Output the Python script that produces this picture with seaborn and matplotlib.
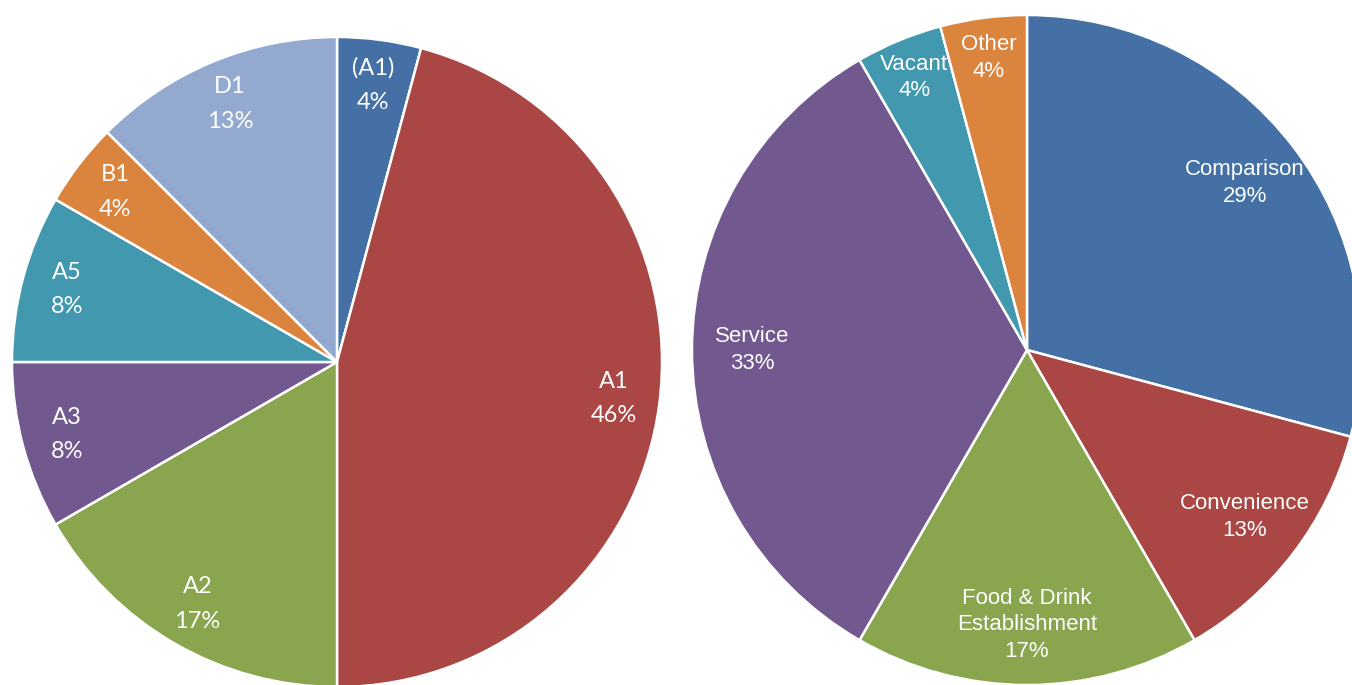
import matplotlib
matplotlib.use("Agg")
import matplotlib.pyplot as plt
import seaborn as sns

sns.set_style("white")

# left pie: use classes (unit counts)
use_labels = ["(A1)", "A1", "A2", "A3", "A5", "B1", "D1"]
use_values = [1, 11, 4, 2, 2, 1, 3]
use_colors = ["#4470A5", "#AA4643", "#89A54E", "#71588F", "#4198AF", "#DB843D", "#93A9CF"]

# right pie: retail categories (unit counts)
cat_labels = ["Comparison", "Convenience", "Food & Drink\nEstablishment", "Service", "Vacant", "Other"]
cat_values = [7, 3, 4, 8, 1, 1]
cat_colors = ["#4470A5", "#AA4643", "#89A54E", "#71588F", "#4198AF", "#DB843D"]

W, H = 1352, 685
fig = plt.figure(figsize=(W / 100, H / 100), dpi=100)
fig.patch.set_facecolor("white")


def draw_pie(ax, labels, values, colors, dist, small_dist, font, size, lsp):
    total = sum(values)
    # Excel style rounding (half up)
    texts_in = [f"{l}\n{int(v / total * 100 + 0.5)}%" for l, v in zip(labels, values)]
    wedges, texts = ax.pie(
        values,
        labels=texts_in,
        colors=sns.color_palette(colors),
        startangle=90,
        counterclock=False,
        labeldistance=dist,
        wedgeprops=dict(edgecolor="white", linewidth=1.8),
        textprops=dict(color="white", fontsize=size, family=font, linespacing=lsp),
    )
    for t, v in zip(texts, values):
        t.set_ha("center")
        t.set_va("center")
        t.set_multialignment("center")
        if small_dist and v / total < 0.05:
            x, y = t.get_position()
            k = small_dist / dist
            t.set_position((x * k, y * k))
    ax.set_xlim(-1, 1)
    ax.set_ylim(-1, 1)
    ax.set_aspect("equal")
    ax.axis("off")


# left pie: centre (337, 362), radius 325 px
r1 = 325
ax1 = fig.add_axes([(337 - r1) / W, (H - 362 - r1) / H, 2 * r1 / W, 2 * r1 / H])
draw_pie(ax1, use_labels, use_values, use_colors, 0.86, None, ["Lato", "DejaVu Sans"], 17, 1.8)

# right pie: centre (1027, 350), radius 335 px
r2 = 335
ax2 = fig.add_axes([(1027 - r2) / W, (H - 350 - r2) / H, 2 * r2 / W, 2 * r2 / H])
draw_pie(ax2, cat_labels, cat_values, cat_colors, 0.82, 0.88, ["Liberation Sans", "DejaVu Sans"], 16, 1.35)

for ax in (ax1, ax2):
    ax.patch.set_alpha(0)

fig.savefig("out.png", dpi=100, facecolor="white")
